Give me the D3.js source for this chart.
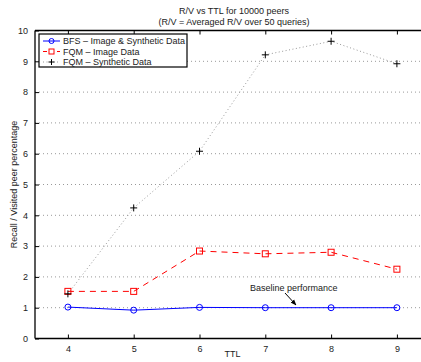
<!DOCTYPE html>
<html>
<head>
<meta charset="utf-8">
<script src="https://cdn.jsdelivr.net/npm/d3@7"></script>
<style>
  html, body { margin: 0; padding: 0; background: #fff; }
  svg { display: block; font-family: "Liberation Sans", Arial, Helvetica, sans-serif; }
</style>
</head>
<body>
<svg id="chart" width="421" height="362"></svg>
<script>
// TTL values on the x axis
const ttl = [4, 5, 6, 7, 8, 9];
// Averaged Recall / Visited peer percentage per series
const bfsValues = [1.02, 0.92, 1.01, 1.00, 1.00, 1.00];
const fqmImageValues = [1.53, 1.53, 2.84, 2.75, 2.80, 2.25];
const fqmSyntheticValues = [1.45, 4.24, 6.08, 9.21, 9.65, 8.92];
const yTicks = [0, 1, 2, 3, 4, 5, 6, 7, 8, 9, 10];
const seriesNames = ["BFS \u2013 Image & Synthetic Data", "FQM \u2013 Image Data", "FQM \u2013 Synthetic Data"];

const svg = d3.select("#chart");
const plotLeft = 35, plotTop = 30.5, plotBottom = 338.5;

const x = d3.scaleLinear().domain([3.5, 9.5]).range([plotLeft, plotLeft + 6 * 65.8]);
const y = d3.scaleLinear().domain([0, 10]).range([plotBottom, plotTop]);

// Horizontal dotted grid
svg.append("g").selectAll("line").data(yTicks.slice(1, -1)).join("line")
  .attr("x1", plotLeft).attr("x2", 421)
  .attr("y1", d => y(d)).attr("y2", d => y(d))
  .attr("stroke", "#999").attr("stroke-width", 1)
  .attr("stroke-dasharray", "1,3");

// Axes with inward ticks
const axisColor = "#000";
const yAxis = svg.append("g").attr("transform", `translate(${plotLeft},0)`)
  .call(d3.axisLeft(y).tickValues(yTicks).tickSize(-4).tickPadding(7));
const xAxis = svg.append("g").attr("transform", `translate(0,${plotBottom})`)
  .call(d3.axisBottom(x).tickValues(ttl).tickSize(-4).tickPadding(7).tickFormat(d3.format("d")));
const xTop = svg.append("g").attr("transform", `translate(0,${plotTop})`)
  .call(d3.axisTop(x).tickValues(ttl).tickSize(-4).tickFormat(""));
[yAxis, xAxis, xTop].forEach(g => {
  g.select(".domain").attr("stroke", axisColor).attr("stroke-width", 1.3);
  g.selectAll(".tick line").attr("stroke", axisColor);
  g.selectAll(".tick text").attr("font-size", 9).attr("fill", "#222")
    .attr("font-family", "'Liberation Sans', Arial, sans-serif");
});
xTop.select(".domain").attr("d", `M${plotLeft},0H421`);
xAxis.select(".domain").attr("d", `M${plotLeft},0H421`);
yAxis.select(".domain").attr("d", `M0,${plotTop}V${plotBottom}`);

const line = d3.line().x((d, i) => x(ttl[i])).y(d => y(d));

// FQM – Synthetic Data (dotted)
svg.append("path").datum(fqmSyntheticValues).attr("d", line)
  .attr("fill", "none").attr("stroke", "#999").attr("stroke-width", 1)
  .attr("stroke-dasharray", "1,2.5");
// FQM – Image Data (dashed red)
svg.append("path").datum(fqmImageValues).attr("d", line)
  .attr("fill", "none").attr("stroke", "#ff0000").attr("stroke-width", 1)
  .attr("stroke-dasharray", "6,5");
// BFS (solid blue)
svg.append("path").datum(bfsValues).attr("d", line)
  .attr("fill", "none").attr("stroke", "#0000ff").attr("stroke-width", 1);

// Markers
svg.append("g").selectAll("circle").data(bfsValues).join("circle")
  .attr("cx", (d, i) => x(ttl[i])).attr("cy", d => y(d)).attr("r", 3)
  .attr("fill", "none").attr("stroke", "#0000ff").attr("stroke-width", 1);
svg.append("g").selectAll("rect").data(fqmImageValues).join("rect")
  .attr("x", (d, i) => x(ttl[i]) - 3).attr("y", d => y(d) - 3)
  .attr("width", 6).attr("height", 6)
  .attr("fill", "none").attr("stroke", "#ff0000").attr("stroke-width", 1);
const plus = (sel, cx, cy, s) => sel.append("path")
  .attr("d", `M${cx - s},${cy}H${cx + s}M${cx},${cy - s}V${cy + s}`)
  .attr("stroke", "#000").attr("stroke-width", 1).attr("fill", "none");
const plusG = svg.append("g");
fqmSyntheticValues.forEach((d, i) => plus(plusG, x(ttl[i]), y(d), 3.5));

// Title
svg.append("text").attr("x", 234).attr("y", 14).attr("text-anchor", "middle")
  .attr("font-size", 9).attr("fill", "#222").text("R/V vs TTL for 10000 peers");
svg.append("text").attr("x", 234).attr("y", 25).attr("text-anchor", "middle")
  .attr("font-size", 9).attr("fill", "#222").text("(R/V = Averaged R/V over 50 queries)");

// Axis labels
svg.append("text").attr("x", x(6.5)).attr("y", 357).attr("text-anchor", "middle")
  .attr("font-size", 9).attr("fill", "#222").text("TTL");
svg.append("text").attr("transform", `translate(17,${y(5)}) rotate(-90)`)
  .attr("text-anchor", "middle").attr("font-size", 9).attr("fill", "#222")
  .text("Recall / Visited peer percentage");

// Legend
const lg = svg.append("g");
lg.append("rect").attr("x", 39).attr("y", 34).attr("width", 148).attr("height", 33)
  .attr("fill", "#fff").attr("stroke", "#000").attr("stroke-width", 1.2);
const rows = [41, 51.5, 62];
// BFS entry
lg.append("line").attr("x1", 43).attr("x2", 60).attr("y1", rows[0]).attr("y2", rows[0])
  .attr("stroke", "#0000ff");
lg.append("circle").attr("cx", 51.5).attr("cy", rows[0]).attr("r", 2.5)
  .attr("fill", "none").attr("stroke", "#0000ff");
// FQM image entry
lg.append("line").attr("x1", 43).attr("x2", 60).attr("y1", rows[1]).attr("y2", rows[1])
  .attr("stroke", "#ff0000").attr("stroke-dasharray", "4,3");
lg.append("rect").attr("x", 49).attr("y", rows[1] - 2.5).attr("width", 5).attr("height", 5)
  .attr("fill", "#fff").attr("stroke", "#ff0000");
// FQM synthetic entry
lg.append("line").attr("x1", 43).attr("x2", 60).attr("y1", rows[2]).attr("y2", rows[2])
  .attr("stroke", "#999").attr("stroke-dasharray", "1,2.5");
plus(lg, 51.5, rows[2], 3);
lg.selectAll("text.lab").data(seriesNames).join("text").attr("class", "lab")
  .attr("x", 63).attr("y", (d, i) => rows[i] + 3.3)
  .attr("font-size", 9).attr("fill", "#222").text(d => d);

// Annotation
svg.append("text").attr("x", 250).attr("y", 291).attr("font-size", 9).attr("fill", "#222")
  .text("Baseline performance");
svg.append("defs").append("marker").attr("id", "arrow")
  .attr("viewBox", "0 0 10 10").attr("refX", 9).attr("refY", 5)
  .attr("markerWidth", 6).attr("markerHeight", 6).attr("orient", "auto")
  .append("path").attr("d", "M0,1L10,5L0,9Z").attr("fill", "#000");
svg.append("line").attr("x1", 285).attr("y1", 293).attr("x2", 296).attr("y2", 305)
  .attr("stroke", "#000").attr("stroke-width", 1).attr("marker-end", "url(#arrow)");
</script>
</body>
</html>
